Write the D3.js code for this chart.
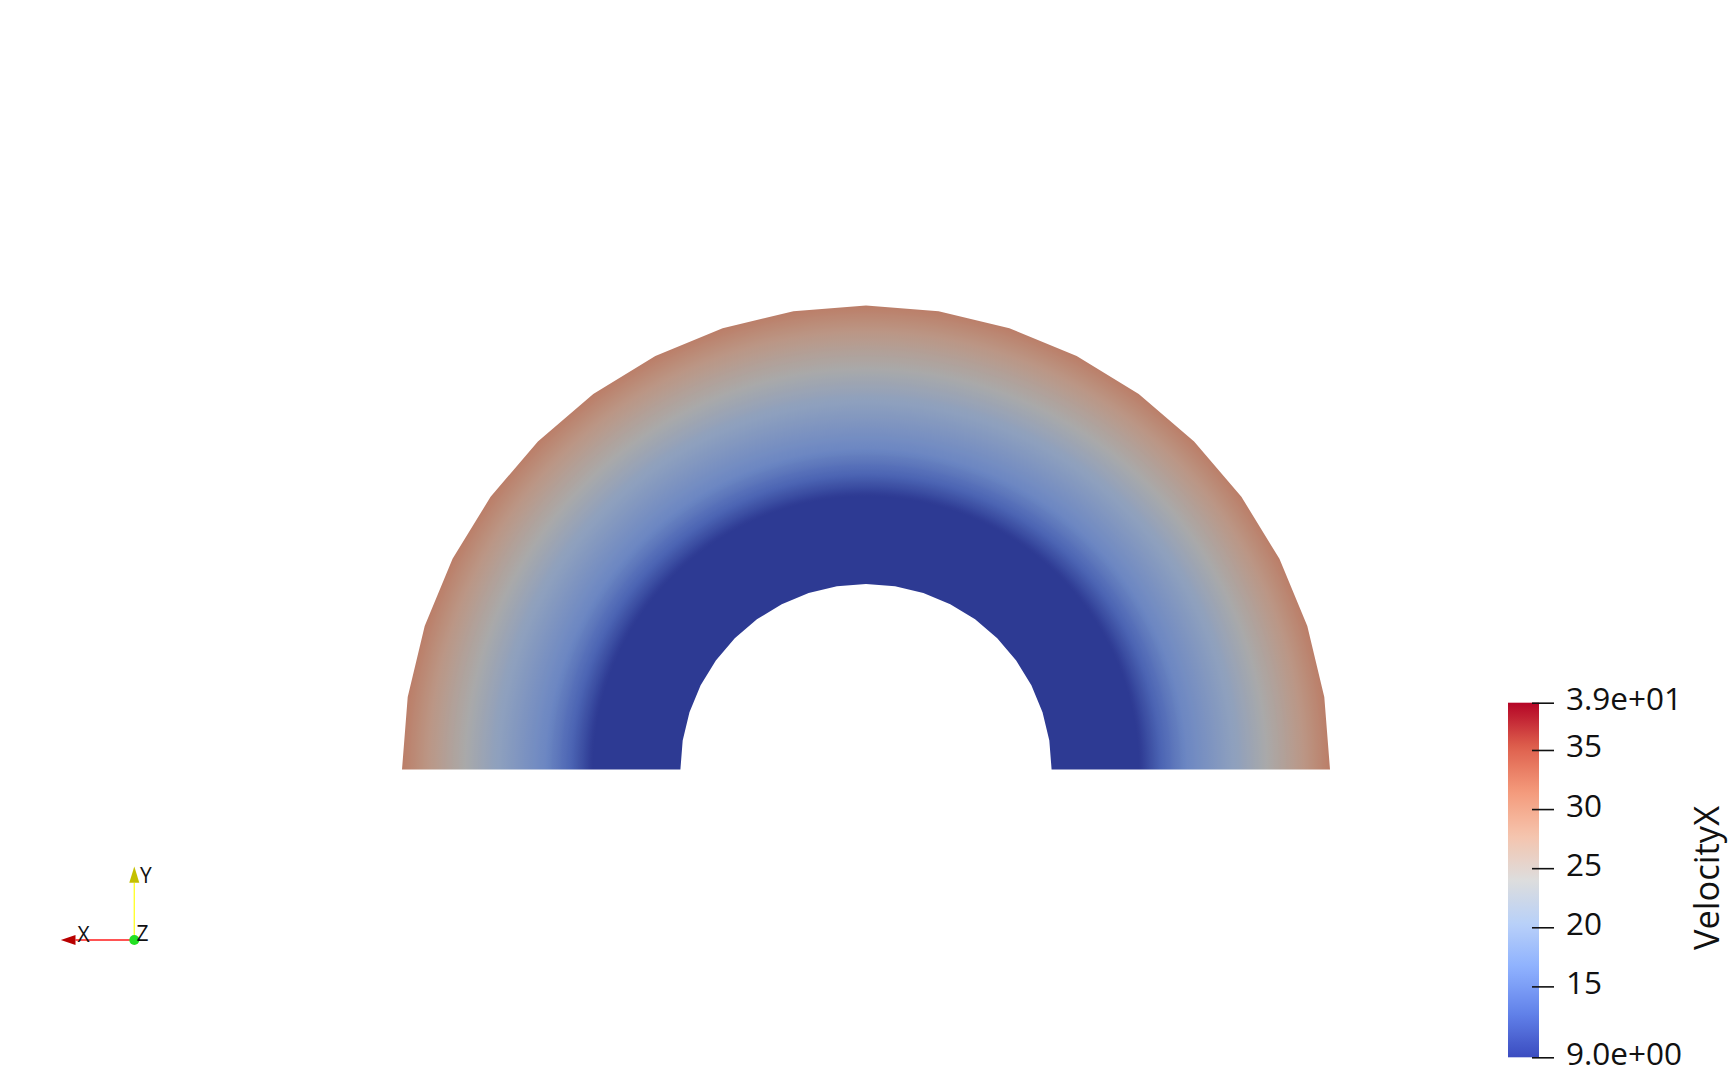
<!DOCTYPE html>
<html><head><meta charset="utf-8">
<script src="https://cdn.jsdelivr.net/npm/d3@7"></script>
<style>html,body{margin:0;padding:0;background:#fff;overflow:hidden}</style>
</head><body>
<svg id="c" width="1732" height="1076" xmlns="http://www.w3.org/2000/svg"></svg>
<script>
// ---------------- data ----------------
const fieldName = "VelocityX";
const innerRadius = 0.40;            // model units
const outerRadius = 1.00;
const angularSegments = 20;          // half annulus facets
const radialStations = [0.40, 0.50, 0.59, 0.633, 0.69, 0.75, 0.80, 0.87, 0.94, 1.00];
const velocityX      = [9.0,  9.0,  9.0,  12.6,  16.5, 18.8, 20.7, 24.3, 27.5, 30.6];
const colorRange = [9, 39];
const tickValues = [9, 15, 20, 25, 30, 35, 39];
const tickLabels = ["9.0e+00", "15", "20", "25", "30", "35", "3.9e+01"];
const coolWarmPos = [0, 0.125, 0.25, 0.375, 0.5, 0.625, 0.75, 0.875, 1];
const coolWarmRGB = ["#3b4cc0", "#6282ea", "#8db0fe", "#b8d0f9", "#dddddd", "#f5c4ad", "#f49a7b", "#de604d", "#b40426"];
const triadAxes = ["X", "Y", "Z"];
const triadDirs = [[-1, 0], [0, 1], [0, 0]];

const FONT = "'Open Sans', Lato, sans-serif";

// ---------------- scales ----------------
const svg = d3.select("#c");
const cx = 866, cy = 769.5, Rpx = 464;
const x = d3.scaleLinear().domain([-1, 1]).range([cx - Rpx, cx + Rpx]);
const y = d3.scaleLinear().domain([0, 1]).range([cy, cy - Rpx]);
const profile = d3.scaleLinear().domain(radialStations).range(velocityX).clamp(true);
const color = d3.scaleLinear()
  .domain(coolWarmPos.map(p => colorRange[0] + p * (colorRange[1] - colorRange[0])))
  .range(coolWarmRGB).clamp(true);
const lightK = 0.765;
const shade = c => { const r = d3.rgb(c); return d3.rgb(r.r * lightK, r.g * lightK, r.b * lightK).formatHex(); };

const defs = svg.append("defs");

// radial gradient for the surface
const rg = defs.append("radialGradient").attr("id", "field")
  .attr("gradientUnits", "userSpaceOnUse")
  .attr("cx", x(0)).attr("cy", y(0)).attr("r", x(outerRadius) - x(0));
d3.range(0, 1.0001, 0.004).forEach(t => {
  rg.append("stop").attr("offset", t).attr("stop-color", shade(color(profile(t * outerRadius))));
});

// half-annulus polygon
const angles = d3.range(angularSegments + 1).map(i => Math.PI * i / angularSegments);
const outerPts = angles.map(a => [x(outerRadius * Math.cos(a)), y(outerRadius * Math.sin(a))]);
const innerPts = angles.slice().reverse().map(a => [x(innerRadius * Math.cos(a)), y(innerRadius * Math.sin(a))]);
svg.append("path")
  .attr("d", d3.line()(outerPts.concat(innerPts)) + "Z")
  .attr("fill", "url(#field)");

// ---------------- colour bar ----------------
const cb = d3.scaleLinear().domain(colorRange).range([1057.3, 702.7]);
const lg = defs.append("linearGradient").attr("id", "cbar")
  .attr("x1", 0).attr("y1", 1).attr("x2", 0).attr("y2", 0);
d3.range(0, 1.0001, 0.02).forEach(t => {
  lg.append("stop").attr("offset", t)
    .attr("stop-color", color(colorRange[0] + t * (colorRange[1] - colorRange[0])));
});
svg.append("rect")
  .attr("x", 1508).attr("width", 31)
  .attr("y", cb(colorRange[1])).attr("height", cb(colorRange[0]) - cb(colorRange[1]))
  .attr("fill", "url(#cbar)");

const axis = d3.axisRight(cb).tickValues(tickValues).tickSize(22).tickPadding(12)
  .tickFormat(d => tickLabels[tickValues.indexOf(d)]);
const ga = svg.append("g").attr("transform", "translate(1532,0)").call(axis);
ga.select(".domain").remove();
ga.selectAll(".tick line").attr("stroke", "#111").attr("stroke-width", 1.6);
ga.selectAll(".tick text")
  .attr("fill", "#111").attr("dy", "0.22em")
  .style("font-family", FONT).style("font-weight", 400).style("font-size", "31.5px");

svg.append("text")
  .attr("transform", "translate(1719,878) rotate(-90)")
  .attr("text-anchor", "middle")
  .style("font-family", FONT).style("font-weight", 400).style("font-size", "34.5px")
  .attr("fill", "#111")
  .text(fieldName);

// ---------------- orientation triad ----------------
const ox = 134.3, oy = 940;
const tl = d3.scaleLinear().domain([0, 1]).range([0, 73.5]);   // axis length in px
const tri = svg.append("g");
// X axis (points left)
tri.append("line").attr("x1", ox).attr("y1", oy).attr("x2", ox + tl(0.8) * triadDirs[0][0]).attr("y2", oy)
  .attr("stroke", "#ff1a1a").attr("stroke-width", 1.4);
tri.append("path")
  .attr("d", d3.line()([[ox + tl(1) * triadDirs[0][0], oy], [ox + tl(0.8) * triadDirs[0][0], oy - 5], [ox + tl(0.8) * triadDirs[0][0], oy + 5]]) + "Z")
  .attr("fill", "#b80000");
// Y axis (points up)
tri.append("line").attr("x1", ox).attr("y1", oy).attr("x2", ox).attr("y2", oy - tl(0.78) * triadDirs[1][1])
  .attr("stroke", "#ffff33").attr("stroke-width", 1.4);
tri.append("path")
  .attr("d", d3.line()([[ox, oy - tl(1) * triadDirs[1][1]], [ox - 5, oy - tl(0.78) * triadDirs[1][1]], [ox + 5, oy - tl(0.78) * triadDirs[1][1]]]) + "Z")
  .attr("fill", "#c4c000");
// Z axis (towards viewer)
tri.append("circle").attr("cx", ox).attr("cy", oy).attr("r", 5).attr("fill", "#22e022");
const lblStyle = s => s.style("font-family", FONT).style("font-size", "21px").attr("fill", "#111");
tri.append("text").attr("x", 77.5).attr("y", 941.5).text(triadAxes[0]).call(lblStyle);
tri.append("text").attr("x", 140).attr("y", 883).text(triadAxes[1]).call(lblStyle);
tri.append("text").attr("x", 136.5).attr("y", 940.5).text(triadAxes[2]).call(lblStyle);
</script>
</body></html>
